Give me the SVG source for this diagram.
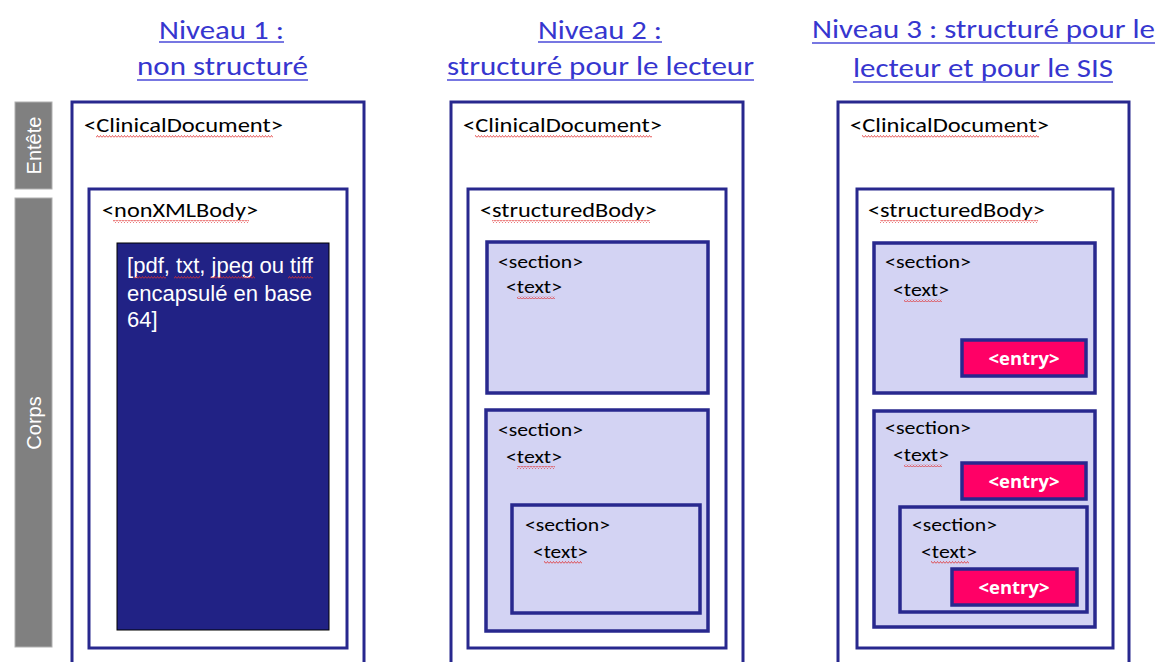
<svg xmlns="http://www.w3.org/2000/svg" width="1159" height="662" viewBox="0 0 1159 662">
<style>
.bg{fill:#ffffff}
.frame{fill:#ffffff;stroke:#28288e;stroke-width:3}
.sec{fill:#d3d3f3;stroke:#28288e;stroke-width:3.5}
.entry{fill:#ff0066;stroke:#28288e;stroke-width:3.5}
.data{fill:#212285;stroke:#000000;stroke-width:1}
.bar{fill:#808080;stroke:#b0b0b0;stroke-width:1}
.t{font-family:Carlito,Lato,"Liberation Sans",sans-serif;fill:#000000;font-size:20px}
.ts{font-family:Carlito,Lato,"Liberation Sans",sans-serif;fill:#000000;font-size:18px}
.title{font-family:Carlito,Lato,"Liberation Sans",sans-serif;fill:#3636cf;font-size:26px}
.ul{stroke:#4a4ad8;stroke-width:1.5}
.w{font-family:"Liberation Sans",Arial,sans-serif;fill:#ffffff;font-size:22px}
.bt{font-family:"Liberation Sans",Arial,sans-serif;fill:#ffffff;font-size:20px}
.et{font-family:"Open Sans","Liberation Sans",sans-serif;fill:#ffffff;font-size:18.5px;font-weight:bold}
.wave{fill:url(#wv)}
</style>
<defs>
<pattern id="wv" patternUnits="userSpaceOnUse" width="3" height="3">
<polyline points="0,2.5 1.5,0.5 3,2.5" fill="none" stroke="#e03030" stroke-width="0.8"/>
</pattern>
</defs>
<rect class="bg" x="0" y="0" width="1159" height="662"/>

<g id="titles">
<text class="title" x="159" y="39" textLength="125" lengthAdjust="spacingAndGlyphs">Niveau 1 :</text>
<line class="ul" x1="159" y1="42" x2="284" y2="42"/>
<text class="title" x="137" y="75" textLength="171" lengthAdjust="spacingAndGlyphs">non structuré</text>
<line class="ul" x1="137" y1="80" x2="308" y2="80"/>
<text class="title" x="538" y="39" textLength="124" lengthAdjust="spacingAndGlyphs">Niveau 2 :</text>
<line class="ul" x1="538" y1="42" x2="662" y2="42"/>
<text class="title" x="447" y="75" textLength="307" lengthAdjust="spacingAndGlyphs">structuré pour le lecteur</text>
<line class="ul" x1="447" y1="80" x2="754" y2="80"/>
<text class="title" x="812" y="38" textLength="343" lengthAdjust="spacingAndGlyphs">Niveau 3 : structuré pour le</text>
<line class="ul" x1="812" y1="43" x2="1155" y2="43"/>
<text class="title" x="853" y="77" textLength="260" lengthAdjust="spacingAndGlyphs">lecteur et pour le SIS</text>
<line class="ul" x1="853" y1="82" x2="1113" y2="82"/>
</g>

<g id="bar-entete">
<rect class="bar" x="15" y="102" width="37" height="87"/>
<text class="bt" transform="translate(41,145.5) rotate(-90)" text-anchor="middle">Entête</text>
</g>
<g id="bar-corps">
<rect class="bar" x="15" y="198" width="37" height="449"/>
<text class="bt" transform="translate(41,423) rotate(-90)" text-anchor="middle">Corps</text>
</g>

<g id="level1">
<rect class="frame" x="72" y="102" width="292" height="570"/>
<text class="t" x="84" y="132" textLength="199" lengthAdjust="spacingAndGlyphs">&lt;ClinicalDocument&gt;</text>
<rect class="wave" x="96" y="135" width="177" height="3"/>
<rect class="frame" x="89" y="189" width="258" height="459"/>
<text class="t" x="102" y="217" textLength="156" lengthAdjust="spacingAndGlyphs">&lt;nonXMLBody&gt;</text>
<rect class="wave" x="113" y="220" width="136" height="3"/>
<rect class="data" x="117" y="243" width="212" height="387"/>
<text class="w" x="127" y="273" textLength="186" lengthAdjust="spacingAndGlyphs">[pdf, txt, jpeg ou tiff</text>
<text class="w" x="127" y="301" textLength="185" lengthAdjust="spacingAndGlyphs">encapsulé en base</text>
<text class="w" x="127" y="327">64]</text>
<rect class="wave" x="134" y="276" width="32" height="3"/>
<rect class="wave" x="174" y="276" width="26" height="3"/>
<rect class="wave" x="210" y="276" width="45" height="3"/>
<rect class="wave" x="288" y="276" width="25" height="3"/>
</g>

<g id="level2">
<rect class="frame" x="451" y="102" width="292" height="570"/>
<text class="t" x="463" y="132" textLength="199" lengthAdjust="spacingAndGlyphs">&lt;ClinicalDocument&gt;</text>
<rect class="wave" x="475" y="135" width="177" height="3"/>
<rect class="frame" x="468" y="189" width="258" height="459"/>
<text class="t" x="480" y="217" textLength="177" lengthAdjust="spacingAndGlyphs">&lt;structuredBody&gt;</text>
<rect class="wave" x="492" y="220" width="158" height="3"/>
<g id="l2-section1">
<rect class="sec" x="487" y="242" width="221" height="151"/>
<text class="ts" x="498" y="268" textLength="85" lengthAdjust="spacingAndGlyphs">&lt;section&gt;</text>
<text class="ts" x="506" y="293" textLength="56" lengthAdjust="spacingAndGlyphs">&lt;text&gt;</text>
<rect class="wave" x="517" y="296" width="38" height="3"/>
</g>
<g id="l2-section2">
<rect class="sec" x="486" y="410" width="222" height="221"/>
<text class="ts" x="498" y="436" textLength="85" lengthAdjust="spacingAndGlyphs">&lt;section&gt;</text>
<text class="ts" x="506" y="463" textLength="56" lengthAdjust="spacingAndGlyphs">&lt;text&gt;</text>
<rect class="wave" x="517" y="466" width="38" height="3"/>
</g>
<g id="l2-section2-1">
<rect class="sec" x="512" y="505" width="188" height="108"/>
<text class="ts" x="525" y="531" textLength="85" lengthAdjust="spacingAndGlyphs">&lt;section&gt;</text>
<text class="ts" x="533" y="558" textLength="55" lengthAdjust="spacingAndGlyphs">&lt;text&gt;</text>
<rect class="wave" x="544" y="561" width="38" height="3"/>
</g>
</g>

<g id="level3">
<rect class="frame" x="838" y="102" width="291" height="570"/>
<text class="t" x="850" y="132" textLength="199" lengthAdjust="spacingAndGlyphs">&lt;ClinicalDocument&gt;</text>
<rect class="wave" x="862" y="135" width="177" height="3"/>
<rect class="frame" x="857" y="189" width="256" height="459"/>
<text class="t" x="868" y="217" textLength="177" lengthAdjust="spacingAndGlyphs">&lt;structuredBody&gt;</text>
<rect class="wave" x="880" y="220" width="158" height="3"/>
<g id="l3-section1">
<rect class="sec" x="874" y="243" width="221" height="150"/>
<text class="ts" x="885" y="268" textLength="86" lengthAdjust="spacingAndGlyphs">&lt;section&gt;</text>
<text class="ts" x="893" y="296" textLength="56" lengthAdjust="spacingAndGlyphs">&lt;text&gt;</text>
<rect class="wave" x="904" y="299" width="38" height="3"/>
</g>
<g id="l3-entry1">
<rect class="entry" x="962" y="340" width="124" height="36"/>
<text class="et" x="1024" y="365" text-anchor="middle" textLength="71" lengthAdjust="spacingAndGlyphs">&lt;entry&gt;</text>
</g>
<g id="l3-section2">
<rect class="sec" x="874" y="411" width="221" height="216"/>
<text class="ts" x="885" y="434" textLength="86" lengthAdjust="spacingAndGlyphs">&lt;section&gt;</text>
<text class="ts" x="893" y="461" textLength="56" lengthAdjust="spacingAndGlyphs">&lt;text&gt;</text>
<rect class="wave" x="904" y="464" width="38" height="3"/>
</g>
<g id="l3-entry2">
<rect class="entry" x="962" y="463" width="124" height="36"/>
<text class="et" x="1024" y="488" text-anchor="middle" textLength="71" lengthAdjust="spacingAndGlyphs">&lt;entry&gt;</text>
</g>
<g id="l3-section2-1">
<rect class="sec" x="900" y="507" width="187" height="105"/>
<text class="ts" x="912" y="531" textLength="85" lengthAdjust="spacingAndGlyphs">&lt;section&gt;</text>
<text class="ts" x="921" y="558" textLength="56" lengthAdjust="spacingAndGlyphs">&lt;text&gt;</text>
<rect class="wave" x="931" y="561" width="38" height="3"/>
</g>
<g id="l3-entry3">
<rect class="entry" x="952" y="569" width="125" height="36"/>
<text class="et" x="1014" y="594" text-anchor="middle" textLength="71" lengthAdjust="spacingAndGlyphs">&lt;entry&gt;</text>
</g>
</g>

<g id="connectors"></g>
</svg>
